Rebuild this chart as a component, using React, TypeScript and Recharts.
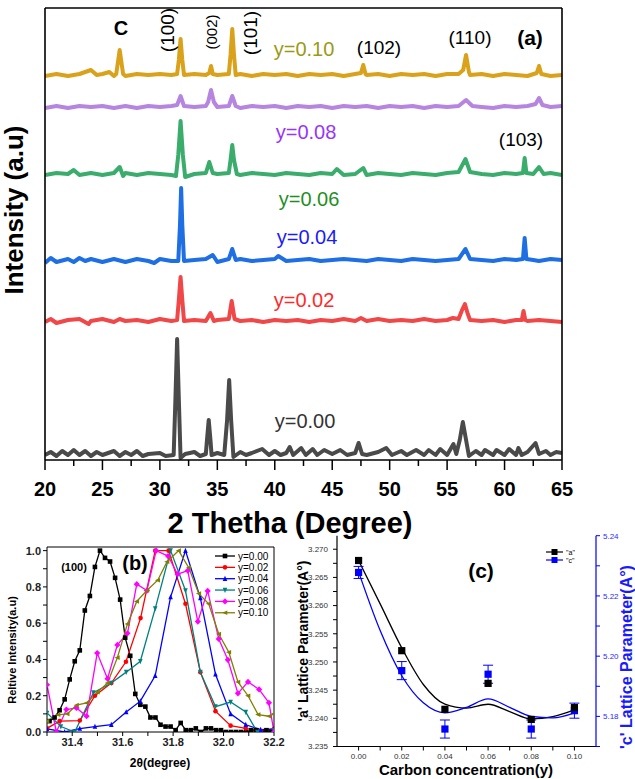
import React from "react";
import { ErrorBar, Line, LineChart, XAxis, YAxis } from "recharts";

const FONT = '"Liberation Sans", Arial, Helvetica, sans-serif';

// ---------- (a) XRD patterns, stacked ----------
const thetaTicks = [20, 22.5, 25, 27.5, 30, 32.5, 35, 37.5, 40, 42.5, 45, 47.5, 50, 52.5, 55, 57.5, 60, 62.5, 65];

type P = [number, number];

const xrd010: P[] = [
  [20, 384], [21, 386], [22, 384], [23, 386], [24, 390], [24.5, 385], [25, 386], [25.6, 388], [26, 384], [26.2, 386],
  [26.5, 410], [26.8, 386], [27, 384], [28, 386], [29, 385], [30, 386], [31, 385], [31.5, 386], [31.65, 400], [31.8, 421],
  [31.95, 400], [32.1, 385], [33, 386], [34, 385], [34.3, 387], [34.45, 394], [34.6, 386], [35, 385], [36, 386], [36.15, 405],
  [36.3, 431], [36.45, 405], [36.6, 385], [37, 386], [38, 384], [39, 386], [40, 385], [41, 386], [42, 384], [43, 386],
  [44, 385], [45, 386], [46, 384], [47, 386], [47.5, 387], [47.7, 395], [47.9, 386], [48, 385], [49, 386], [50, 384],
  [51, 386], [52, 385], [53, 386], [54, 384], [55, 386], [56, 386], [56.4, 390], [56.65, 405], [56.9, 388], [57, 385],
  [58, 386], [59, 384], [60, 386], [61, 385], [62, 384], [62.8, 387], [63, 394], [63.2, 386], [64, 384], [65, 385],
];
const xrd008: P[] = [
  [20, 352], [21, 354], [22, 352], [23, 354], [24, 353], [25, 354], [26, 352], [27, 354], [28, 352], [29, 354],
  [30, 353], [31, 354], [31.5, 355], [31.8, 364], [32.1, 354], [33, 353], [34, 354], [34.2, 358], [34.45, 370], [34.7, 358],
  [35, 353], [36, 354], [36.3, 364], [36.6, 354], [37, 352], [38, 354], [39, 353], [40, 354], [41, 352], [42, 354],
  [43, 353], [44, 354], [45, 352], [46, 354], [47, 353], [48, 354], [49, 352], [50, 354], [51, 353], [52, 354],
  [53, 352], [54, 354], [55, 353], [56, 354], [56.65, 360], [57.2, 354], [58, 353], [59, 352], [60, 354], [61, 353],
  [62, 354], [62.7, 356], [63, 362], [63.3, 355], [64, 353], [65, 354],
];
const xrd006: P[] = [
  [20, 285], [21, 287], [22, 286], [22.5, 290], [23, 285], [24, 287], [25, 285], [26, 287], [26.5, 293], [26.8, 284],
  [27, 287], [28, 285], [29, 287], [30, 286], [31, 285], [31.4, 284], [31.6, 305], [31.8, 339], [32, 305], [32.2, 283],
  [33, 286], [34, 287], [34.3, 298], [34.6, 287], [35, 286], [36, 287], [36.15, 300], [36.3, 315], [36.45, 300], [36.7, 286],
  [37, 285], [38, 287], [39, 286], [40, 285], [41, 287], [42, 286], [43, 285], [44, 287], [45, 286], [45.4, 291],
  [46, 285], [47, 286], [47.7, 292], [48, 285], [49, 287], [50, 286], [51, 285], [52, 287], [53, 286], [54, 285],
  [55, 287], [56, 288], [56.6, 301], [57, 288], [58, 286], [59, 285], [60, 287], [61, 286], [61.6, 287], [61.75, 302],
  [61.9, 287], [62.5, 286], [63, 293], [63.4, 286], [64, 287], [65, 285],
];
const xrd004: P[] = [
  [20, 197], [20.5, 202], [21, 198], [22, 201], [22.5, 198], [23, 202], [23.5, 199], [24, 201], [25, 198], [26, 201],
  [27, 198], [28, 201], [29, 199], [29.5, 197], [30, 201], [31, 199], [31.6, 199], [31.75, 235], [31.85, 272], [31.95, 235],
  [32.1, 199], [33, 200], [34, 201], [34.6, 205], [35, 198], [36, 201], [36.3, 211], [36.6, 200], [37, 201], [38, 199],
  [39, 200], [40, 201], [40.3, 204], [41, 199], [42, 200], [43, 201], [44, 199], [45, 200], [46, 201], [47, 200],
  [48, 199], [49, 201], [50, 200], [51, 199], [52, 201], [53, 200], [54, 199], [55, 200], [56, 201], [56.6, 211],
  [57, 201], [58, 200], [59, 199], [60, 201], [61, 200], [61.6, 201], [61.75, 222], [61.9, 201], [62.5, 200], [63, 199],
  [64, 201], [65, 200],
];
const xrd002: P[] = [
  [20, 138], [20.5, 141], [21, 137], [22, 140], [23, 141], [23.8, 136], [24, 139], [25, 141], [26, 138], [26.5, 141],
  [27, 139], [28, 140], [29, 138], [30, 141], [31, 139], [31.5, 140], [31.65, 160], [31.8, 183], [31.95, 160], [32.1, 139],
  [33, 140], [34, 139], [34.4, 147], [34.7, 139], [35, 140], [36, 141], [36.25, 159], [36.5, 141], [37, 139], [38, 140],
  [39, 138], [40, 140], [41, 139], [42, 140], [43, 138], [44, 140], [45, 139], [46, 141], [47, 139], [47.5, 142],
  [48, 139], [49, 141], [50, 139], [51, 140], [52, 139], [53, 141], [54, 139], [55, 140], [55.5, 142], [56, 141],
  [56.3, 150], [56.55, 156], [56.8, 146], [57, 140], [58, 139], [59, 140], [60, 138], [61, 140], [61.5, 140], [61.65, 149],
  [61.8, 140], [62, 139], [63, 140], [64, 139], [65, 138],
];
const xrd000: P[] = [
  [20, 5], [20.5, 8], [21, 4], [21.5, 9], [22, 5], [22.5, 10], [23, 5], [23.5, 9], [24, 4], [24.5, 8],
  [25, 5], [26, 9], [26.5, 4], [27, 8], [27.5, 5], [28, 9], [28.5, 4], [29, 6], [30, 7], [30.5, 4],
  [31.2, 5], [31.35, 60], [31.5, 121], [31.65, 60], [31.8, 2], [32.2, 6], [33, 8], [33.5, 4], [34, 6], [34.1, 20],
  [34.25, 40], [34.4, 20], [34.5, 5], [35, 7], [35.6, 5], [35.85, 40], [36.03, 80], [36.2, 40], [36.4, 3], [37, 8],
  [37.5, 5], [38, 7], [38.9, 11], [39.5, 5], [40, 9], [40.5, 5], [41, 7], [41.3, 13], [41.6, 5], [42.3, 12],
  [42.7, 5], [43.3, 11], [43.7, 5], [44.3, 10], [45, 6], [45.7, 10], [46.3, 5], [47, 7], [47.3, 17], [47.6, 6],
  [48, 5], [49, 8], [49.7, 12], [50.2, 5], [51, 9], [51.5, 5], [52.3, 10], [53, 5], [53.4, 10], [54, 5],
  [54.4, 11], [55, 5], [55.55, 16], [55.8, 6], [56.1, 20], [56.37, 38], [56.65, 20], [56.9, 4], [57.5, 9], [58, 5],
  [58.3, 10], [59, 5], [59.3, 10], [60, 5], [60.4, 11], [61, 5], [61.2, 12], [61.5, 5], [62, 8], [62.7, 17],
  [63, 6], [63.6, 9], [64, 5], [64.5, 8], [65, 7],
];

const xrdSeries = [
  { id: "y010", color: "#d9a21a", pts: xrd010 },
  { id: "y008", color: "#b685e0", pts: xrd008 },
  { id: "y006", color: "#3aad6d", pts: xrd006 },
  { id: "y004", color: "#1f6fe4", pts: xrd004 },
  { id: "y002", color: "#f04848", pts: xrd002 },
  { id: "y000", color: "#4a4a4a", pts: xrd000 },
];

// ---------- (b) (100) peak, normalised ----------
const bTicksX = [31.3, 31.4, 31.5, 31.6, 31.7, 31.8, 31.9, 32.0, 32.1, 32.2];
const bTicksY = [0, 0.1, 0.2, 0.3, 0.4, 0.5, 0.6, 0.7, 0.8, 0.9, 1.0];

const b000x = [31.31, 31.33, 31.35, 31.37, 31.39, 31.41, 31.43, 31.45, 31.47, 31.49, 31.51, 31.53, 31.55, 31.57, 31.59, 31.61, 31.63, 31.65, 31.67, 31.69, 31.71, 31.73, 31.75, 31.77, 31.79, 31.81, 31.83, 31.85, 31.87, 31.89, 31.91, 31.93, 31.95, 31.97, 31.99, 32.01, 32.03, 32.05, 32.07, 32.09, 32.11, 32.13, 32.15, 32.17, 32.19];
const b000y = [0.06, 0.08, 0.12, 0.18, 0.29, 0.39, 0.45, 0.67, 0.75, 0.91, 1.0, 0.96, 0.94, 0.85, 0.73, 0.52, 0.42, 0.21, 0.15, 0.14, 0.08, 0.08, 0.04, 0.03, 0.03, 0.01, 0.05, 0.01, 0.01, 0.02, 0.0, 0.02, 0.02, 0.01, 0.01, 0.0, 0.0, 0.0, 0.0, 0.0, 0.01, 0.01, 0.0, 0.01, 0.0];
const b002x = [31.3, 31.35, 31.43, 31.49, 31.555, 31.613, 31.671, 31.729, 31.782, 31.849, 31.908, 31.968, 32.028, 32.088, 32.147, 32.2];
const b002y = [0.02, 0.06, 0.063, 0.2, 0.27, 0.387, 0.628, 1.0, 1.0, 0.707, 0.33, 0.115, 0.035, 0.02, 0.005, 0.017];
const b004x = [31.3, 31.37, 31.43, 31.49, 31.555, 31.614, 31.67, 31.729, 31.79, 31.849, 31.908, 31.968, 32.028, 32.088, 32.147, 32.2];
const b004y = [0.017, 0.0, 0.019, 0.03, 0.04, 0.11, 0.17, 0.31, 0.744, 1.0, 0.739, 0.318, 0.1, 0.04, 0.013, 0.017];
const b006x = [31.3, 31.355, 31.41, 31.484, 31.555, 31.614, 31.67, 31.729, 31.79, 31.849, 31.908, 31.968, 32.028, 32.088, 32.134, 32.2];
const b006y = [0.105, 0.03, 0.0, 0.217, 0.27, 0.33, 0.39, 0.68, 1.0, 0.78, 0.33, 0.14, 0.165, 0.11, 0.0, 0.01];
const b008x = [31.3, 31.337, 31.377, 31.417, 31.457, 31.499, 31.54, 31.579, 31.619, 31.656, 31.696, 31.733, 31.78, 31.818, 31.858, 31.898, 31.937, 31.981, 32.017, 32.057, 32.097, 32.141, 32.18, 32.2];
const b008y = [0.26, 0.0, 0.124, 0.133, 0.087, 0.435, 0.294, 0.48, 0.544, 0.815, 0.78, 1.0, 0.97, 0.87, 0.89, 0.609, 0.778, 0.513, 0.398, 0.213, 0.276, 0.235, 0.161, 0.0];
const b010x = [31.3, 31.344, 31.38, 31.417, 31.457, 31.5, 31.54, 31.579, 31.619, 31.656, 31.696, 31.739, 31.776, 31.822, 31.862, 31.902, 31.941, 31.981, 32.021, 32.057, 32.097, 32.137, 32.18, 32.2];
const b010y = [0.06, 0.095, 0.1, 0.148, 0.16, 0.22, 0.27, 0.41, 0.596, 0.72, 0.78, 0.837, 0.939, 1.0, 0.906, 0.763, 0.707, 0.54, 0.44, 0.276, 0.2, 0.096, 0.087, 0.1];

const peakSeries = [
  { name: "y=0.00", color: "#000000", shape: "square", xs: b000x, ys: b000y },
  { name: "y=0.02", color: "#ff0000", shape: "circle", xs: b002x, ys: b002y },
  { name: "y=0.04", color: "#0000ff", shape: "up", xs: b004x, ys: b004y },
  { name: "y=0.06", color: "#008080", shape: "down", xs: b006x, ys: b006y },
  { name: "y=0.08", color: "#ff00ff", shape: "diamond", xs: b008x, ys: b008y },
  { name: "y=0.10", color: "#808000", shape: "left", xs: b010x, ys: b010y },
];

// ---------- (c) lattice parameters ----------
const carbon = [0, 0.02, 0.04, 0.06, 0.08, 0.1];
const latA = [3.268, 3.252, 3.2416, 3.2462, 3.2398, 3.2419];
const latC = [5.2278, 5.1952, 5.1758, 5.194, 5.1758, 5.1819];
const latCErr = [0.002, 0.003, 0.003, 0.003, 0.003, 0.0025];
const fitX = [0, 0.01, 0.02, 0.03, 0.04, 0.05, 0.06, 0.07, 0.08, 0.09, 0.1];
const fitA = [3.268, 3.2603, 3.2525, 3.246, 3.2425, 3.2418, 3.2425, 3.2412, 3.2399, 3.2403, 3.2415];
const fitC = [5.228, 5.2085, 5.1935, 5.1845, 5.1812, 5.183, 5.1858, 5.183, 5.18, 5.1795, 5.1812];
const cTicksX = [0, 0.01, 0.02, 0.03, 0.04, 0.05, 0.06, 0.07, 0.08, 0.09, 0.1];
const cTicksA = [3.235, 3.2375, 3.24, 3.2425, 3.245, 3.2475, 3.25, 3.2525, 3.255, 3.2575, 3.26, 3.2625, 3.265, 3.2675, 3.27];
const cTicksC = [5.17, 5.18, 5.19, 5.2, 5.21, 5.22, 5.23, 5.24];

function Txt({ x, y, size, color = "#000", bold = false, rot = 0, children }: any) {
  return (
    <div
      style={{
        position: "absolute",
        left: x,
        top: y,
        transform: `translate(-50%, -50%) rotate(${rot}deg)`,
        fontSize: size,
        fontWeight: bold ? 700 : 400,
        color,
        fontFamily: FONT,
        whiteSpace: "nowrap",
        lineHeight: 1,
      }}
    >
      {children}
    </div>
  );
}

function Marker({ cx, cy, shape, color, s = 2.6 }: any) {
  if (cx == null || cy == null) return null;
  switch (shape) {
    case "square":
      return <rect x={cx - s} y={cy - s} width={2 * s} height={2 * s} fill={color} />;
    case "circle":
      return <circle cx={cx} cy={cy} r={s} fill={color} />;
    case "up":
      return <polygon points={`${cx},${cy - s - 0.6} ${cx + s},${cy + s} ${cx - s},${cy + s}`} fill={color} />;
    case "down":
      return <polygon points={`${cx},${cy + s + 0.6} ${cx + s},${cy - s} ${cx - s},${cy - s}`} fill={color} />;
    case "left":
      return <polygon points={`${cx - s - 0.6},${cy} ${cx + s},${cy - s} ${cx + s},${cy + s}`} fill={color} />;
    default:
      return <polygon points={`${cx},${cy - s - 0.8} ${cx + s + 0.8},${cy} ${cx},${cy + s + 0.8} ${cx - s - 0.8},${cy}`} fill={color} />;
  }
}

function ThetaTick(props: any) {
  const { x, y, payload } = props;
  const major = payload.value % 5 === 0;
  return (
    <g>
      <line x1={x} x2={x} y1={y} y2={y + (major ? 10 : 6)} stroke="#000" strokeWidth={1.5} />
      {major && (
        <text x={x} y={y + 36} textAnchor="middle" fontSize={20} fontWeight={700} fontFamily={FONT} fill="#000">
          {payload.value}
        </text>
      )}
    </g>
  );
}

const frame = { stroke: "#000", strokeWidth: 1.6 };

function PanelA() {
  return (
    <LineChart width={635} height={540} margin={{ top: 7, right: 72, bottom: 79, left: 44 }}>
      <XAxis xAxisId="b" type="number" dataKey="x" domain={[20, 65]} ticks={thetaTicks} interval={0}
        height={1} tickSize={0} tickMargin={0} tickLine={false} axisLine={frame} tick={ThetaTick} allowDataOverflow />
      <XAxis xAxisId="t" orientation="top" type="number" dataKey="x" domain={[20, 65]} ticks={thetaTicks} interval={0}
        height={1} tickSize={8} tick={false} axisLine={frame} tickLine={{ stroke: "#000", strokeWidth: 1.5 }} />
      <YAxis yAxisId="l" type="number" domain={[0, 452]} ticks={[5]} width={1} tickSize={7} tick={false}
        axisLine={frame} tickLine={{ stroke: "#000", strokeWidth: 1.5 }} />
      <YAxis yAxisId="r" orientation="right" type="number" domain={[0, 452]} ticks={[5]} width={1} tickSize={7} tick={false}
        axisLine={frame} tickLine={{ stroke: "#000", strokeWidth: 1.5 }} />
      {xrdSeries.map((s) => (
        <Line key={s.id} xAxisId="b" yAxisId="l" data={s.pts.map(([x, v]) => ({ x, v }))} dataKey="v"
          type="linear" stroke={s.color} strokeWidth={4} strokeLinejoin="round" dot={false} isAnimationActive={false} />
      ))}
    </LineChart>
  );
}

const bTick = { fontSize: 11, fontWeight: 700, fill: "#222", fontFamily: FONT };

function PanelB() {
  return (
    <LineChart width={300} height={259} margin={{ top: 27, right: 26, bottom: 46, left: 46 }}>
      <XAxis type="number" dataKey="x" domain={[31.3, 32.2]} ticks={bTicksX} interval={0} height={1}
        tickSize={4} tickMargin={2} tick={bTick} axisLine={{ stroke: "#000" }} tickLine={{ stroke: "#000" }}
        tickFormatter={(v: number) => (Math.round(v * 10) % 2 === 0 ? v.toFixed(1) : "")} allowDataOverflow />
      <XAxis xAxisId="t" orientation="top" type="number" domain={[31.3, 32.2]} ticks={bTicksX} interval={0} height={1}
        mirror tickSize={3} tick={false} axisLine={{ stroke: "#000" }} tickLine={{ stroke: "#000" }} />
      <YAxis type="number" domain={[0, 1.02]} ticks={bTicksY} interval={0} width={1} tickSize={4} tickMargin={2}
        tick={bTick} axisLine={{ stroke: "#000" }} tickLine={{ stroke: "#000" }}
        tickFormatter={(v: number) => (Math.round(v * 10) % 2 === 0 ? v.toFixed(1) : "")} allowDataOverflow />
      <YAxis yAxisId="r" orientation="right" type="number" domain={[0, 1.02]} ticks={bTicksY} interval={0} width={1}
        mirror tickSize={3} tick={false} axisLine={{ stroke: "#000" }} tickLine={{ stroke: "#000" }} />
      {peakSeries.map((s) => (
        <Line key={s.name} data={s.xs.map((x, i) => ({ x, v: s.ys[i] }))} dataKey="v" type="linear"
          stroke={s.color} strokeWidth={1.3} isAnimationActive={false}
          dot={(p: any) => <Marker key={p.index} cx={p.cx} cy={p.cy} shape={s.shape} color={s.color} s={2.3} />} />
      ))}
    </LineChart>
  );
}

const cTickBlack = { fontSize: 8, fill: "#333", fontFamily: FONT };
const cTickBlue = { fontSize: 8, fill: "#2a2aff", fontFamily: FONT };

function PanelC() {
  return (
    <LineChart width={345} height={259} margin={{ top: 15.7, right: 38, bottom: 31.5, left: 46 }}>
      <XAxis type="number" dataKey="x" domain={[-0.01, 0.11]} ticks={cTicksX} interval={0} height={1}
        tickSize={4} tickMargin={3} tick={cTickBlack} axisLine={{ stroke: "#000", strokeWidth: 1.2 }} tickLine={{ stroke: "#000" }}
        tickFormatter={(v: number) => (Math.round(v * 100) % 2 === 0 ? v.toFixed(2) : "")} />
      <YAxis yAxisId="a" type="number" domain={[3.235, 3.2724]} ticks={cTicksA} interval={0} width={1}
        tickSize={4} tickMargin={5} tick={cTickBlack} axisLine={{ stroke: "#000", strokeWidth: 1.2 }} tickLine={{ stroke: "#000" }}
        tickFormatter={(v: number) => (Math.round(v * 1000 * 2) % 10 === 0 ? v.toFixed(3) : "")} allowDataOverflow />
      <YAxis yAxisId="c" orientation="right" type="number" domain={[5.17, 5.24]} ticks={cTicksC} interval={0} width={1}
        tickSize={4} tickMargin={3} tick={cTickBlue} axisLine={{ stroke: "#0000ff", strokeWidth: 1.2 }} tickLine={{ stroke: "#0000ff" }}
        tickFormatter={(v: number) => (Math.round(v * 100) % 2 === 0 ? v.toFixed(2) : "")} allowDataOverflow />
      <Line yAxisId="a" data={fitX.map((x, i) => ({ x, v: fitA[i] }))} dataKey="v" type="monotone"
        stroke="#000" strokeWidth={1.3} dot={false} isAnimationActive={false} />
      <Line yAxisId="c" data={fitX.map((x, i) => ({ x, v: fitC[i] }))} dataKey="v" type="monotone"
        stroke="#0000ff" strokeWidth={1.3} dot={false} isAnimationActive={false} />
      <Line yAxisId="c" data={carbon.map((x, i) => ({ x, v: latC[i], e: latCErr[i] }))} dataKey="v"
        stroke="none" isAnimationActive={false}
        dot={(p: any) => <Marker key={p.index} cx={p.cx} cy={p.cy} shape="square" color="#0000ff" s={3.6} />}>
        <ErrorBar dataKey="e" width={5} stroke="#0000ff" strokeWidth={1} direction="y" />
      </Line>
      <Line yAxisId="a" data={carbon.map((x, i) => ({ x, v: latA[i] }))} dataKey="v"
        stroke="none" isAnimationActive={false}
        dot={(p: any) => <Marker key={p.index} cx={p.cx} cy={p.cy} shape="square" color="#000" s={3.6} />} />
    </LineChart>
  );
}

export default function App() {
  return (
    <div style={{ position: "absolute", left: 0, top: 0, width: 635, height: 779, background: "#fff", overflow: "hidden" }}>
      <div style={{ position: "absolute", left: 0, top: 0 }}>
        <PanelA />
      </div>
      <div style={{ position: "absolute", left: 0, top: 520 }}>
        <PanelB />
      </div>
      <div style={{ position: "absolute", left: 290, top: 520 }}>
        <PanelC />
      </div>

      {/* (a) annotations */}
      <Txt x={121} y={28} size={20} bold>C</Txt>
      <Txt x={167} y={30} size={19} rot={-90}>(100)</Txt>
      <Txt x={211} y={32} size={15} rot={-90}>(002)</Txt>
      <Txt x={250} y={33} size={19} rot={-90}>(101)</Txt>
      <Txt x={304} y={49} size={20} color="#9a9a14">y=0.10</Txt>
      <Txt x={379} y={47} size={19}>(102)</Txt>
      <Txt x={470} y={37} size={19}>(110)</Txt>
      <Txt x={530} y={37} size={21} bold>(a)</Txt>
      <Txt x={306} y={132} size={20} color="#9933ff">y=0.08</Txt>
      <Txt x={521} y={139} size={19}>(103)</Txt>
      <Txt x={309} y={199} size={20} color="#1f8f1f">y=0.06</Txt>
      <Txt x={307} y={237} size={20} color="#1a1aff">y=0.04</Txt>
      <Txt x={304} y={300} size={20} color="#ff2a2a">y=0.02</Txt>
      <Txt x={305} y={421} size={20} color="#333">y=0.00</Txt>
      <Txt x={14} y={210} size={26} bold rot={-90}>Intensity (a.u)</Txt>
      <Txt x={290} y={523} size={29} bold>2 Thetha (Degree)</Txt>

      {/* (b) annotations */}
      <Txt x={74} y={567} size={11} bold>(100)</Txt>
      <Txt x={135} y={563} size={20} bold>(b)</Txt>
      <Txt x={12} y={650} size={11} bold rot={-90}>Reltive Intensity(a.u)</Txt>
      <Txt x={160} y={763} size={12} bold>2θ(degree)</Txt>
      <svg style={{ position: "absolute", left: 0, top: 0 }} width={635} height={779}>
        {peakSeries.map((s, i) => (
          <g key={s.name}>
            <line x1={215} x2={235} y1={556 + i * 11.35} y2={556 + i * 11.35} stroke={s.color} strokeWidth={1.3} />
            <Marker cx={225} cy={556 + i * 11.35} shape={s.shape} color={s.color} s={2.3} />
            <text x={238} y={559.5 + i * 11.35} fontSize={10} fontFamily={FONT} fill="#000">{s.name}</text>
          </g>
        ))}
        <line x1={546} x2={563} y1={552} y2={552} stroke="#000" strokeWidth={1.2} />
        <rect x={551.5} y={549} width={6} height={6} fill="#000" />
        <text x={566} y={554.5} fontSize={7} fontFamily={FONT} fill="#000">"a"</text>
        <line x1={546} x2={563} y1={560} y2={560} stroke="#0000ff" strokeWidth={1.2} />
        <rect x={551.5} y={557} width={6} height={6} fill="#0000ff" />
        <text x={566} y={562.5} fontSize={7} fontFamily={FONT} fill="#000">"c"</text>
      </svg>

      {/* (c) annotations */}
      <Txt x={481} y={570} size={21} bold>(c)</Txt>
      <Txt x={303} y={641} size={14} bold rot={-90}>'a' Lattice Parameter(A°)</Txt>
      <Txt x={627} y={657} size={16} bold rot={-90} color="#1a1aff">'c' Lattice Parameter(A°)</Txt>
      <Txt x={466} y={769} size={15} bold>Carbon concentration(y)</Txt>
    </div>
  );
}
